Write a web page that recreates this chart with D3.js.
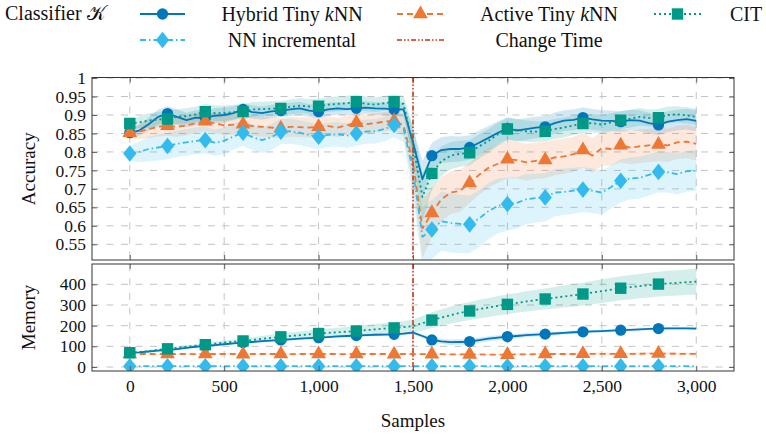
<!DOCTYPE html>
<html>
<head>
<meta charset="utf-8">
<script src="https://cdn.jsdelivr.net/npm/d3@7"></script>
<style>
  body { margin: 0; background: #fff; }
  svg { display: block; }
  text { font-family: "Liberation Serif", "Times New Roman", Times, serif; fill: #111; }
</style>
</head>
<body>
<svg id="chart" width="766" height="437"></svg>
<script>
// ---- data -------------------------------------------------------------
// evaluation points (every 50 samples)
const samples = d3.range(0, 3001, 50);
const changeTime = 1500;

const accTicks = [0.55, 0.6, 0.65, 0.7, 0.75, 0.8, 0.85, 0.9, 0.95, 1];
const memTicks = [0, 100, 200, 300, 400];
const sampleTicks = [0, 500, 1000, 1500, 2000, 2500, 3000];

// accuracy (mean) and half-width of the shaded band
const hybridAcc = [
  0.852,0.858,0.875,0.895,0.904,0.895,0.886,0.893,0.892,0.898,
  0.900,0.905,0.915,0.908,0.905,0.910,0.912,0.915,0.918,0.912,
  0.909,0.915,0.918,0.916,0.918,0.920,0.918,0.917,0.915,0.915,
  0.826,0.726,0.790,0.805,0.808,0.808,0.812,0.825,0.838,0.852,
  0.864,0.858,0.862,0.866,0.868,0.878,0.885,0.887,0.893,0.888,
  0.885,0.884,0.882,0.886,0.885,0.878,0.873,0.882,0.886,0.889,
  0.884];
const hybridAccSd = [
  0.010,0.014,0.018,0.020,0.020,0.020,0.020,0.020,0.020,0.020,
  0.020,0.019,0.018,0.018,0.018,0.018,0.018,0.018,0.018,0.018,
  0.018,0.018,0.017,0.017,0.017,0.017,0.017,0.017,0.017,0.020,
  0.040,0.050,0.035,0.035,0.035,0.034,0.033,0.033,0.032,0.031,
  0.030,0.030,0.030,0.029,0.029,0.029,0.028,0.028,0.028,0.028,
  0.028,0.028,0.028,0.028,0.028,0.028,0.028,0.028,0.028,0.028,
  0.028];

const activeAcc = [
  0.852,0.855,0.862,0.868,0.871,0.868,0.872,0.878,0.883,0.878,
  0.872,0.874,0.875,0.870,0.868,0.866,0.864,0.868,0.867,0.866,
  0.868,0.870,0.866,0.872,0.879,0.875,0.878,0.882,0.884,0.872,
  0.770,0.593,0.635,0.672,0.690,0.695,0.716,0.738,0.757,0.768,
  0.780,0.778,0.772,0.776,0.778,0.785,0.788,0.794,0.805,0.790,
  0.810,0.808,0.818,0.812,0.815,0.818,0.820,0.818,0.826,0.828,
  0.822];
const activeAccSd = [
  0.015,0.020,0.024,0.026,0.027,0.027,0.027,0.027,0.027,0.027,
  0.027,0.027,0.027,0.027,0.027,0.027,0.027,0.027,0.027,0.027,
  0.026,0.026,0.026,0.026,0.026,0.026,0.026,0.026,0.026,0.030,
  0.060,0.080,0.065,0.060,0.058,0.056,0.055,0.054,0.053,0.052,
  0.051,0.050,0.050,0.049,0.049,0.048,0.048,0.047,0.047,0.047,
  0.046,0.046,0.046,0.045,0.045,0.045,0.045,0.045,0.045,0.045,
  0.045];

const citAcc = [
  0.877,0.880,0.885,0.888,0.889,0.895,0.897,0.902,0.909,0.905,
  0.905,0.908,0.909,0.915,0.916,0.917,0.918,0.922,0.925,0.923,
  0.924,0.928,0.930,0.932,0.936,0.930,0.928,0.932,0.936,0.930,
  0.820,0.678,0.742,0.775,0.790,0.795,0.798,0.815,0.830,0.848,
  0.862,0.860,0.856,0.855,0.856,0.862,0.866,0.872,0.877,0.878,
  0.874,0.880,0.886,0.890,0.895,0.892,0.893,0.900,0.902,0.899,
  0.895];
const citAccSd = [
  0.012,0.016,0.020,0.021,0.021,0.021,0.021,0.021,0.021,0.021,
  0.021,0.020,0.020,0.020,0.020,0.020,0.020,0.020,0.020,0.020,
  0.020,0.020,0.020,0.020,0.020,0.020,0.020,0.020,0.020,0.022,
  0.050,0.065,0.045,0.040,0.037,0.035,0.034,0.033,0.032,0.031,
  0.030,0.030,0.029,0.028,0.028,0.027,0.027,0.026,0.026,0.025,
  0.025,0.025,0.024,0.024,0.024,0.023,0.023,0.023,0.022,0.022,
  0.022];

const nnAcc = [
  0.796,0.800,0.808,0.812,0.816,0.822,0.826,0.830,0.832,0.825,
  0.830,0.842,0.852,0.840,0.832,0.840,0.855,0.856,0.852,0.846,
  0.841,0.846,0.848,0.844,0.850,0.855,0.856,0.862,0.873,0.862,
  0.750,0.570,0.590,0.612,0.608,0.605,0.604,0.620,0.640,0.654,
  0.659,0.662,0.672,0.675,0.677,0.690,0.692,0.695,0.698,0.695,
  0.690,0.705,0.722,0.728,0.730,0.738,0.746,0.745,0.740,0.748,
  0.749];
const nnAccSd = [
  0.020,0.028,0.033,0.035,0.036,0.036,0.036,0.036,0.036,0.036,
  0.036,0.035,0.035,0.035,0.035,0.035,0.034,0.034,0.034,0.034,
  0.034,0.033,0.033,0.033,0.033,0.033,0.033,0.033,0.033,0.036,
  0.070,0.080,0.080,0.080,0.080,0.079,0.078,0.077,0.076,0.074,
  0.072,0.070,0.068,0.066,0.065,0.064,0.063,0.062,0.061,0.060,
  0.059,0.058,0.058,0.057,0.057,0.056,0.056,0.055,0.055,0.055,
  0.055];

// memory (stored samples) and half-width of the shaded band
const hybridMem = [
   69, 71, 75, 79, 82, 87, 93, 98,102,106,
  110,114,118,121,125,128,131,134,137,140,
  142,145,148,150,152,154,156,157,158,161,
  166,150,131,124,120,121,123,130,137,142,
  147,150,154,157,159,162,165,168,170,172,
  174,176,178,180,182,184,186,187,187,187,
  186];
const hybridMemSd = [
   0, 1, 2, 2, 3, 3, 3, 4, 4, 4,
   4, 4, 5, 5, 5, 5, 5, 5, 5, 5,
   5, 5, 5, 5, 5, 6, 6, 6, 6, 6,
   7, 9,11,12,13,13,13,13,12,12,
  11,11,10,10, 9, 9, 8, 8, 8, 7,
   7, 7, 7, 6, 6, 6, 6, 6, 6, 6,
   6];

const activeMem = [
  63,63,63,62,63,63,63,62,63,63,
  63,63,62,63,63,63,63,62,63,63,
  63,63,63,62,63,63,63,63,62,63,
  63,62,62,62,61,61,61,61,60,60,
  60,61,61,62,63,63,63,63,64,64,
  64,64,64,64,64,65,65,65,64,64,
  64];
const activeMemSd = [
  0,1,2,2,2,2,3,3,3,3,
  3,3,3,3,3,3,3,3,3,3,
  3,3,3,3,3,3,3,3,3,3,
  3,3,3,3,3,3,3,3,3,3,
  3,4,4,5,5,5,5,6,6,6,
  6,6,6,6,6,6,6,6,6,6,
  6];

const citMem = [
   69, 73, 78, 83, 88, 93, 98,103,108,113,
  118,122,126,131,136,141,146,150,154,158,
  162,165,168,171,174,178,182,186,189,193,
  198,212,227,239,251,262,271,280,288,296,
  303,310,317,323,329,335,341,347,353,360,
  367,374,381,386,391,396,401,404,407,410,
  413];
const citMemSd = [
   0, 2, 3, 4, 5, 6, 7, 7, 8, 9,
  10,11,12,13,14,15,16,17,18,19,
  20,21,22,23,24,25,26,27,28,30,
  32,35,38,40,42,43,44,45,46,47,
  48,48,49,50,51,52,53,54,55,56,
  57,58,58,59,59,60,60,61,61,62,
  62];

const nnMem = [
  4,4,4,4,4,4,4,4,4,4,
  4,4,4,4,4,4,4,4,4,4,
  4,4,4,4,4,4,4,4,4,4,
  4,4,4,4,4,4,4,4,4,4,
  4,4,4,4,4,4,4,4,4,4,
  4,4,4,4,4,4,4,4,4,4,
  4];
const nnMemSd = [
  0,1,1,1,1,1,1,1,1,1,
  1,1,1,1,1,1,1,1,1,1,
  1,1,1,1,1,1,1,1,1,1,
  1,1,1,1,1,1,1,1,1,1,
  1,1,1,1,1,1,1,1,1,1,
  1,1,1,1,1,1,1,1,1,1,
  1];

// ---- styling ----------------------------------------------------------
const colors = { blue: "#0077BB", orange: "#EE7733", teal: "#009988", cyan: "#33BBEE", red: "#CC3311" };
const tickFont = 17.5;

// diamond a little wider than d3's default rhombus
const symbolWideDiamond = {
  draw(ctx, size) {
    const h = Math.sqrt(size / 1.6), w = h * 0.8;
    ctx.moveTo(0, -h); ctx.lineTo(w, 0); ctx.lineTo(0, h); ctx.lineTo(-w, 0); ctx.closePath();
  }
};

const series = [
  { key: "hybrid", acc: hybridAcc, accSd: hybridAccSd, mem: hybridMem, memSd: hybridMemSd,
    color: colors.blue, dash: null, symbol: d3.symbolCircle, size: 100 },
  { key: "active", acc: activeAcc, accSd: activeAccSd, mem: activeMem, memSd: activeMemSd,
    color: colors.orange, dash: "6,4", symbol: d3.symbolTriangle, size: 95 },
  { key: "cit", acc: citAcc, accSd: citAccSd, mem: citMem, memSd: citMemSd,
    color: colors.teal, dash: "2,3", symbol: d3.symbolSquare, size: 130 },
  { key: "nn", acc: nnAcc, accSd: nnAccSd, mem: nnMem, memSd: nnMemSd,
    color: colors.cyan, dash: "6,3,1.5,3", symbol: symbolWideDiamond, size: 110 }
];
const changeDash = "5,2,1.5,2,1.5,2";

// ---- layout -----------------------------------------------------------
const svg = d3.select("#chart");
const left = 92, right = 734;
const accPanel = { top: 77.5, bottom: 260 };
const memPanel = { top: 264, bottom: 371 };

const x = d3.scaleLinear().domain([-200, 3200]).range([left, right]);
const yAcc = d3.scaleLinear().domain([0.5075, 1.0015]).range([accPanel.bottom, accPanel.top]);
const yMem = d3.scaleLinear().domain([-19.3, 498.2]).range([memPanel.bottom, memPanel.top]);

const isMarker = s => s % 200 === 0 && s < 3000;

function drawPanel(id, panel, y, ticks, valKey, sdKey, tickFmt, showXLabels) {
  const g = svg.append("g");
  const h = panel.bottom - panel.top;

  g.append("clipPath").attr("id", "clip-" + id)
    .append("rect").attr("x", left).attr("y", panel.top).attr("width", right - left).attr("height", h);

  // grid
  const grid = g.append("g").attr("stroke", "#c4c4c4").attr("stroke-width", 1).attr("stroke-dasharray", "7,7.5");
  grid.selectAll(".gy").data(ticks).join("line")
    .attr("x1", left).attr("x2", right).attr("y1", d => y(d)).attr("y2", d => y(d));
  grid.selectAll(".gx").data(sampleTicks).join("line")
    .attr("y1", panel.top).attr("y2", panel.bottom).attr("x1", d => x(d)).attr("x2", d => x(d));

  const plot = g.append("g").attr("clip-path", `url(#clip-${id})`);

  // uncertainty bands
  series.forEach(s => {
    const area = d3.area()
      .x((d, i) => x(samples[i]))
      .y0((d, i) => y(s[valKey][i] - s[sdKey][i]))
      .y1((d, i) => y(s[valKey][i] + s[sdKey][i]));
    plot.append("path").datum(samples).attr("d", area)
      .attr("fill", s.color).attr("fill-opacity", 0.17).attr("stroke", "none");
  });

  // lines with markers
  series.forEach(s => {
    const line = d3.line().x((d, i) => x(samples[i])).y((d, i) => y(s[valKey][i]));
    plot.append("path").datum(samples).attr("d", line)
      .attr("fill", "none").attr("stroke", s.color).attr("stroke-width", 1.8)
      .attr("stroke-dasharray", s.dash).attr("stroke-linejoin", "round");
    const pts = samples.map((v, i) => ({ s: v, v: s[valKey][i] })).filter(p => isMarker(p.s));
    plot.selectAll(null).data(pts).join("path")
      .attr("d", d3.symbol(s.symbol, s.size))
      .attr("transform", p => `translate(${x(p.s)},${y(p.v)})`)
      .attr("fill", s.color);
  });

  // change time
  g.append("line")
    .attr("x1", x(changeTime)).attr("x2", x(changeTime))
    .attr("y1", panel.top).attr("y2", panel.bottom)
    .attr("stroke", colors.red).attr("stroke-width", 1.5).attr("stroke-dasharray", changeDash);

  // axes with inward ticks
  const yAxisL = d3.axisLeft(y).tickValues(ticks).tickSize(-5).tickPadding(6).tickFormat(tickFmt);
  const yAxisR = d3.axisRight(y).tickValues(ticks).tickSize(-5).tickFormat("");
  const xAxisB = d3.axisBottom(x).tickValues(sampleTicks).tickSize(-5).tickPadding(9)
    .tickFormat(showXLabels ? d3.format(",") : "");
  const xAxisT = d3.axisTop(x).tickValues(sampleTicks).tickSize(-5).tickFormat("");

  const axes = [
    g.append("g").attr("transform", `translate(${left},0)`).call(yAxisL),
    g.append("g").attr("transform", `translate(${right},0)`).call(yAxisR),
    g.append("g").attr("transform", `translate(0,${panel.bottom})`).call(xAxisB),
    g.append("g").attr("transform", `translate(0,${panel.top})`).call(xAxisT)
  ];
  axes.forEach(a => {
    a.attr("font-family", null).attr("font-size", null);
    a.select(".domain").remove();
    a.selectAll(".tick line").attr("stroke", "#555").attr("stroke-width", 0.9);
    a.selectAll(".tick text").style("font-size", tickFont + "px")
      .style("font-family", '"Liberation Serif", serif').attr("fill", "#111");
  });

  g.append("rect").attr("x", left).attr("y", panel.top).attr("width", right - left).attr("height", h)
    .attr("fill", "none").attr("stroke", "#333").attr("stroke-width", 1);
}

drawPanel("acc", accPanel, yAcc, accTicks, "acc", "accSd", d => String(+d.toFixed(2)), false);
drawPanel("mem", memPanel, yMem, memTicks, "mem", "memSd", d3.format("d"), true);

// axis titles
svg.append("text").attr("transform", `translate(35,${(accPanel.top + accPanel.bottom) / 2}) rotate(-90)`)
  .attr("text-anchor", "middle").attr("font-size", 19).text("Accuracy");
svg.append("text").attr("transform", `translate(35,${(memPanel.top + memPanel.bottom) / 2}) rotate(-90)`)
  .attr("text-anchor", "middle").attr("font-size", 19).text("Memory");
svg.append("text").attr("x", (left + right) / 2).attr("y", 427)
  .attr("text-anchor", "middle").attr("font-size", 19).text("Samples");

// ---- legend -----------------------------------------------------------
const legend = svg.append("g");
legend.append("text").attr("x", 5).attr("y", 20).attr("font-size", 20)
  .text("Classifier ").append("tspan").text("\u{1D4A6}");

const legendItems = [
  { s: series[0], row: 0, x1: 140, x2: 185, tx: 292, label: ["Hybrid Tiny ", "k", "NN"] },
  { s: series[1], row: 0, x1: 397, x2: 444, tx: 549, label: ["Active Tiny ", "k", "NN"] },
  { s: series[2], row: 0, x1: 654, x2: 701, tx: 746, label: ["CIT"] },
  { s: series[3], row: 1, x1: 140, x2: 185, tx: 292, label: ["NN incremental"] },
  { s: null, row: 1, x1: 397, x2: 444, tx: 549, label: ["Change Time"] }
];
legendItems.forEach(it => {
  const cy = it.row === 0 ? 14 : 40;
  const color = it.s ? it.s.color : colors.red;
  legend.append("line").attr("x1", it.x1).attr("x2", it.x2).attr("y1", cy).attr("y2", cy)
    .attr("stroke", color).attr("stroke-width", it.s ? 1.8 : 1.5)
    .attr("stroke-dasharray", it.s ? it.s.dash : changeDash);
  if (it.s) {
    legend.append("path").attr("d", d3.symbol(it.s.symbol, it.s.size))
      .attr("transform", `translate(${(it.x1 + it.x2) / 2},${cy})`).attr("fill", color);
  }
  const t = legend.append("text").attr("x", it.tx).attr("y", cy + 6.5)
    .attr("text-anchor", "middle").attr("font-size", 20);
  it.label.forEach(part => {
    const sp = t.append("tspan").text(part);
    if (part === "k") sp.attr("font-style", "italic");
  });
});
</script>
</body>
</html>
